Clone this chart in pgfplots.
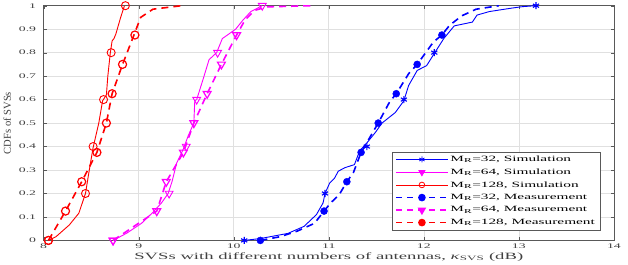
\documentclass[border=0pt]{standalone}
\usepackage{fontspec}
\setmainfont[FakeStretch=1.95]{Liberation Serif}
\newfontfamily\legfont[FakeStretch=1.9]{Liberation Serif}
\newfontfamily\plainfont{Liberation Serif}
\usepackage{pgfplots}
\pgfplotsset{compat=1.18}
\definecolor{gridgray}{gray}{0.88}
\definecolor{axgray}{gray}{0.35}
\definecolor{mag}{RGB}{255,0,255}
\definecolor{rd}{RGB}{255,0,0}
\definecolor{bl}{RGB}{0,0,255}
\begin{document}
\begin{tikzpicture}
\begin{axis}[
  scale only axis,
  width=566pt, height=233pt,
  xmin=8, xmax=14, ymin=0, ymax=1,
  xtick={8,9,...,14},
  ytick={0,0.1,...,1},
  yticklabels={0,0.1,0.2,0.3,0.4,0.5,0.6,0.7,0.8,0.9,1},
  /pgf/number format/assume math mode=true,
  tick label style={font=\fontsize{7}{8}\selectfont, text=black!75},
  yticklabel style={xshift=-4pt},
  grid=major,
  major grid style={gridgray, line width=0.6pt},
  axis line style={axgray, line width=0.6pt},
  tick style={axgray},
  tick align=inside,
  major tick length=3pt,
  xlabel={SVSs with different numbers of antennas, \textit{κ}\textsubscript{SVS} (dB)},
  ylabel={CDFs of SVSs},
  xlabel style={font=\fontsize{9.5}{10}\selectfont, text=black!75, yshift=3pt},
  ylabel style={font=\plainfont\fontsize{10.5}{12}\selectfont, text=black!75, yshift=1pt},
  legend cell align=left,
  legend style={at={(0.976,0.043)}, anchor=south east, font=\legfont\fontsize{8}{9}\selectfont,
    draw=axgray, line width=0.6pt, row sep=1.6pt, inner xsep=3pt, inner ysep=2pt},
  legend image code/.code={\draw[mark repeat=2,mark phase=2] plot coordinates {(0cm,0cm) (0.9cm,0cm) (1.8cm,0cm)};},
]
% legend entries
\addlegendimage{bl, line width=0.8pt, mark=asterisk, mark size=3pt}
\addlegendentry{M\textsubscript{R}=32, Simulation}
\addlegendimage{mag, line width=0.8pt, mark=triangle*, mark options={rotate=180}, mark size=3.5pt}
\addlegendentry{M\textsubscript{R}=64, Simulation}
\addlegendimage{rd, line width=0.8pt, mark=o, mark size=2.8pt}
\addlegendentry{M\textsubscript{R}=128, Simulation}
\addlegendimage{bl, line width=1.5pt, dash pattern=on 6pt off 5pt, mark=*, mark size=3pt, mark options={solid}}
\addlegendentry{M\textsubscript{R}=32, Measurement}
\addlegendimage{mag, line width=1.5pt, dash pattern=on 6pt off 5pt, mark=triangle*, mark options={solid,rotate=180}, mark size=3.5pt}
\addlegendentry{M\textsubscript{R}=64, Measurement}
\addlegendimage{rd, line width=1.5pt, dash pattern=on 6pt off 5pt, mark=*, mark size=3pt, mark options={solid}}
\addlegendentry{M\textsubscript{R}=128, Measurement}

% ---------- Red (M_R=128) ----------
\addplot[rd, line width=0.9pt, forget plot] coordinates {
(8.05,0) (8.13,0.016) (8.27,0.066) (8.37,0.116) (8.44,0.2) (8.48,0.3) (8.52,0.395)
(8.58,0.5) (8.62,0.595) (8.66,0.62) (8.675,0.70) (8.70,0.795) (8.72,0.85) (8.74,0.86)
(8.76,0.88) (8.81,0.95) (8.85,1.0) };
\addplot[rd, only marks, mark=o, mark size=4pt, line width=0.9pt, forget plot] coordinates {
(8.05,0) (8.44,0.2) (8.52,0.4) (8.63,0.6) (8.71,0.8) (8.86,1.0) };
\addplot[rd, line width=1.6pt, dash pattern=on 7pt off 5pt, forget plot] coordinates {
(8.05,0) (8.23,0.125) (8.40,0.25) (8.56,0.375) (8.66,0.5) (8.72,0.625) (8.83,0.75)
(8.95,0.875) (9.02,0.95) (9.15,0.985) (9.45,1.0) };
\addplot[rd, only marks, mark=o, mark size=4pt, line width=1.2pt, forget plot] coordinates {
(8.05,0) (8.23,0.125) (8.40,0.25) (8.56,0.375) (8.66,0.5) (8.72,0.625) (8.83,0.75) (8.96,0.875) };

% ---------- Magenta (M_R=64) ----------
\addplot[mag, line width=0.9pt, forget plot] coordinates {
(8.73,0) (8.87,0.03) (9.03,0.073) (9.15,0.12) (9.24,0.16) (9.31,0.2) (9.35,0.25)
(9.40,0.33) (9.47,0.39) (9.52,0.445) (9.58,0.50) (9.59,0.595) (9.61,0.6) (9.68,0.69)
(9.74,0.77) (9.82,0.8) (9.88,0.86) (9.93,0.874) (10.02,0.9) (10.10,0.94) (10.18,0.975) (10.30,1.0) };
\addplot[mag, only marks, mark=triangle, mark options={rotate=180}, mark size=4.5pt, line width=0.9pt, forget plot] coordinates {
(8.73,0) (9.32,0.2) (9.50,0.4) (9.61,0.6) (9.83,0.8) (10.30,1.0) };
\addplot[mag, line width=1.6pt, dash pattern=on 7pt off 5pt, forget plot] coordinates {
(8.73,0) (9.19,0.125) (9.29,0.25) (9.47,0.375) (9.58,0.5) (9.72,0.625) (9.87,0.75)
(10.03,0.875) (10.12,0.94) (10.22,0.98) (10.35,0.995) (10.81,1.0) };
\addplot[mag, only marks, mark=triangle, mark options={rotate=180}, mark size=4.5pt, line width=1.2pt, forget plot] coordinates {
(8.73,0) (9.19,0.125) (9.29,0.25) (9.47,0.375) (9.58,0.5) (9.72,0.625) (9.87,0.75) (10.03,0.875) };

% ---------- Blue (M_R=32) ----------
\addplot[bl, line width=0.9pt, forget plot] coordinates {
(10.11,0) (10.28,0.008) (10.57,0.03) (10.74,0.06) (10.87,0.11) (10.94,0.16) (10.96,0.2)
(11.01,0.245) (11.06,0.265) (11.10,0.295) (11.17,0.31) (11.27,0.323) (11.31,0.366)
(11.34,0.388) (11.41,0.42) (11.49,0.46) (11.56,0.50) (11.70,0.545) (11.79,0.595)
(11.84,0.66) (11.93,0.724) (12.03,0.745) (12.10,0.79) (12.21,0.86) (12.32,0.914)
(12.51,0.93) (12.56,0.96) (12.69,0.975) (12.93,0.99) (13.04,0.996) (13.18,1.0) };
\addplot[bl, only marks, mark=asterisk, mark size=3.5pt, line width=1.1pt, forget plot] coordinates {
(10.11,0) (10.96,0.2) (11.40,0.4) (11.79,0.6) (12.11,0.8) (13.18,1.0) };
\addplot[bl, line width=1.6pt, dash pattern=on 7pt off 5pt, forget plot] coordinates {
(10.28,0) (10.49,0.016) (10.67,0.04) (10.85,0.073) (10.95,0.125) (11.02,0.16) (11.11,0.195)
(11.19,0.25) (11.26,0.29) (11.34,0.375) (11.52,0.5) (11.64,0.59) (11.71,0.625) (11.84,0.71)
(11.93,0.75) (12.02,0.80) (12.10,0.845) (12.19,0.875) (12.27,0.916) (12.40,0.957)
(12.55,0.985) (12.79,1.0) };
\addplot[bl, only marks, mark=*, mark size=3.5pt, forget plot] coordinates {
(10.28,0) (10.95,0.125) (11.19,0.25) (11.34,0.375) (11.52,0.5) (11.71,0.625) (11.93,0.75) (12.19,0.875) };
\end{axis}
\path (current axis.south east) ++(14pt,0) coordinate (r);
\path (r) -- ++(0,1pt);
\end{tikzpicture}
\end{document}
